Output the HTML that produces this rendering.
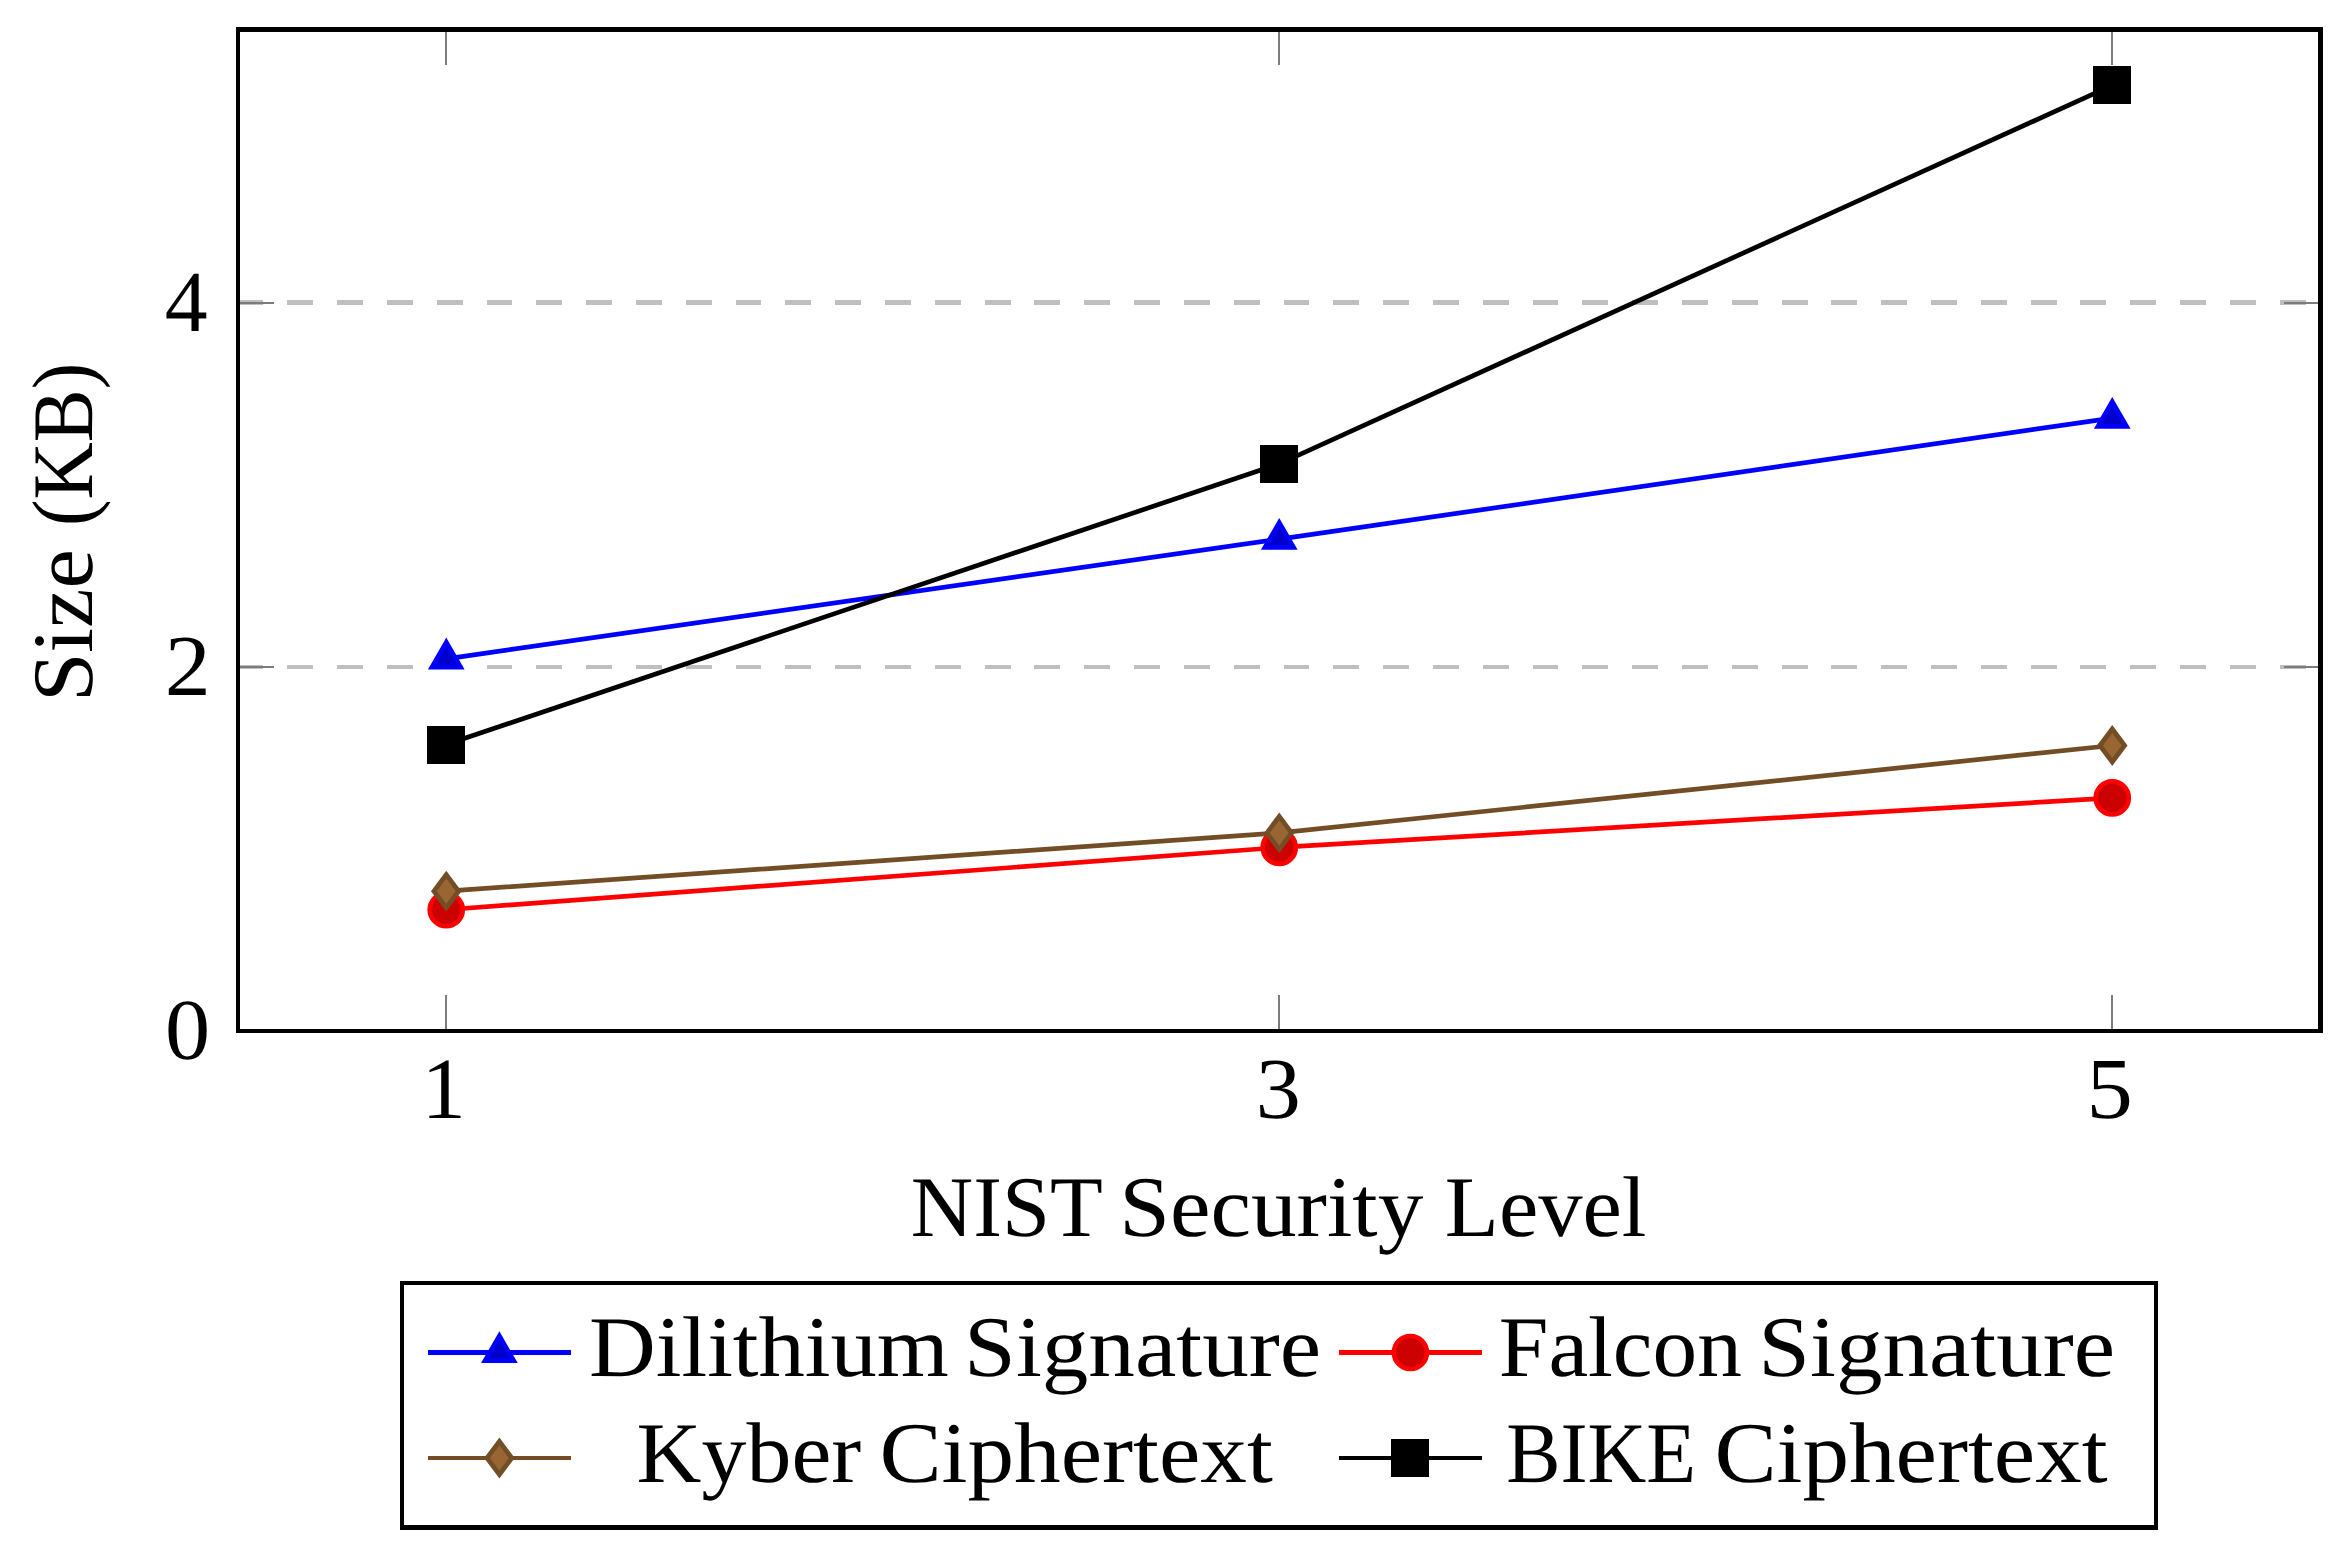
<!DOCTYPE html>
<html lang="en"><head><meta charset="utf-8"><title>Size (KB) vs NIST Security Level</title>
<style>html,body{margin:0;padding:0;background:#fff;overflow:hidden}svg{display:block}</style></head>
<body>
<svg width="2349" height="1556" viewBox="0 0 2349 1556">
<rect x="0" y="0" width="2349" height="1556" fill="#fff"/>
<g fill="#bfbfbf" shape-rendering="crispEdges">
<rect x="238" y="300" width="25" height="5"/>
<rect x="287" y="300" width="26" height="5"/>
<rect x="337" y="300" width="26" height="5"/>
<rect x="387" y="300" width="26" height="5"/>
<rect x="437" y="300" width="26" height="5"/>
<rect x="487" y="300" width="25" height="5"/>
<rect x="536" y="300" width="26" height="5"/>
<rect x="586" y="300" width="26" height="5"/>
<rect x="636" y="300" width="26" height="5"/>
<rect x="686" y="300" width="26" height="5"/>
<rect x="736" y="300" width="25" height="5"/>
<rect x="785" y="300" width="26" height="5"/>
<rect x="835" y="300" width="26" height="5"/>
<rect x="885" y="300" width="26" height="5"/>
<rect x="935" y="300" width="26" height="5"/>
<rect x="985" y="300" width="26" height="5"/>
<rect x="1034" y="300" width="26" height="5"/>
<rect x="1084" y="300" width="26" height="5"/>
<rect x="1134" y="300" width="26" height="5"/>
<rect x="1184" y="300" width="26" height="5"/>
<rect x="1234" y="300" width="26" height="5"/>
<rect x="1284" y="300" width="25" height="5"/>
<rect x="1333" y="300" width="26" height="5"/>
<rect x="1383" y="300" width="26" height="5"/>
<rect x="1433" y="300" width="26" height="5"/>
<rect x="1483" y="300" width="26" height="5"/>
<rect x="1533" y="300" width="25" height="5"/>
<rect x="1582" y="300" width="26" height="5"/>
<rect x="1632" y="300" width="26" height="5"/>
<rect x="1682" y="300" width="26" height="5"/>
<rect x="1732" y="300" width="26" height="5"/>
<rect x="1782" y="300" width="26" height="5"/>
<rect x="1831" y="300" width="26" height="5"/>
<rect x="1881" y="300" width="26" height="5"/>
<rect x="1931" y="300" width="26" height="5"/>
<rect x="1981" y="300" width="26" height="5"/>
<rect x="2031" y="300" width="26" height="5"/>
<rect x="2080" y="300" width="26" height="5"/>
<rect x="2130" y="300" width="26" height="5"/>
<rect x="2180" y="300" width="26" height="5"/>
<rect x="2230" y="300" width="26" height="5"/>
<rect x="2280" y="300" width="26" height="5"/>
<rect x="238" y="665" width="25" height="4"/>
<rect x="287" y="665" width="26" height="4"/>
<rect x="337" y="665" width="26" height="4"/>
<rect x="387" y="665" width="26" height="4"/>
<rect x="437" y="665" width="26" height="4"/>
<rect x="487" y="665" width="25" height="4"/>
<rect x="536" y="665" width="26" height="4"/>
<rect x="586" y="665" width="26" height="4"/>
<rect x="636" y="665" width="26" height="4"/>
<rect x="686" y="665" width="26" height="4"/>
<rect x="736" y="665" width="25" height="4"/>
<rect x="785" y="665" width="26" height="4"/>
<rect x="835" y="665" width="26" height="4"/>
<rect x="885" y="665" width="26" height="4"/>
<rect x="935" y="665" width="26" height="4"/>
<rect x="985" y="665" width="26" height="4"/>
<rect x="1034" y="665" width="26" height="4"/>
<rect x="1084" y="665" width="26" height="4"/>
<rect x="1134" y="665" width="26" height="4"/>
<rect x="1184" y="665" width="26" height="4"/>
<rect x="1234" y="665" width="26" height="4"/>
<rect x="1284" y="665" width="25" height="4"/>
<rect x="1333" y="665" width="26" height="4"/>
<rect x="1383" y="665" width="26" height="4"/>
<rect x="1433" y="665" width="26" height="4"/>
<rect x="1483" y="665" width="26" height="4"/>
<rect x="1533" y="665" width="25" height="4"/>
<rect x="1582" y="665" width="26" height="4"/>
<rect x="1632" y="665" width="26" height="4"/>
<rect x="1682" y="665" width="26" height="4"/>
<rect x="1732" y="665" width="26" height="4"/>
<rect x="1782" y="665" width="26" height="4"/>
<rect x="1831" y="665" width="26" height="4"/>
<rect x="1881" y="665" width="26" height="4"/>
<rect x="1931" y="665" width="26" height="4"/>
<rect x="1981" y="665" width="26" height="4"/>
<rect x="2031" y="665" width="26" height="4"/>
<rect x="2080" y="665" width="26" height="4"/>
<rect x="2130" y="665" width="26" height="4"/>
<rect x="2180" y="665" width="26" height="4"/>
<rect x="2230" y="665" width="26" height="4"/>
<rect x="2280" y="665" width="26" height="4"/>
</g>
<g fill="#7c7c7c" shape-rendering="crispEdges">
<rect x="445" y="32" width="2" height="33"/>
<rect x="445" y="995" width="2" height="34"/>
<rect x="1278" y="32" width="2" height="33"/>
<rect x="1278" y="995" width="2" height="34"/>
<rect x="2111" y="32" width="2" height="33"/>
<rect x="2111" y="995" width="2" height="34"/>
<rect x="240" y="302" width="34" height="2"/>
<rect x="2284" y="302" width="34" height="2"/>
<rect x="240" y="666" width="34" height="2"/>
<rect x="2284" y="666" width="34" height="2"/>
</g>
<g fill="#000" shape-rendering="crispEdges">
<rect x="236" y="27" width="2087" height="5"/>
<rect x="236" y="1029" width="2087" height="4"/>
<rect x="236" y="27" width="4" height="1006"/>
<rect x="2318" y="27" width="5" height="1006"/>
</g>
<polyline points="446.25,658.81 1279.25,539.17 2112.25,418.08" fill="none" stroke="#0000ff" stroke-width="4.7"/>
<polygon points="446.25,642.31 431.96,667.06 460.54,667.06" fill="#0000cc" stroke="#0000ff" stroke-width="4.7" stroke-linejoin="miter"/>
<polygon points="1279.25,522.67 1264.96,547.42 1293.54,547.42" fill="#0000cc" stroke="#0000ff" stroke-width="4.7" stroke-linejoin="miter"/>
<polygon points="2112.25,401.58 2097.96,426.33 2126.54,426.33" fill="#0000cc" stroke="#0000ff" stroke-width="4.7" stroke-linejoin="miter"/>
<polyline points="446.25,909.73 1279.25,847.45 2112.25,797.92" fill="none" stroke="#ff0000" stroke-width="4.7"/>
<circle cx="446.25" cy="909.73" r="16.5" fill="#cc0000" stroke="#ff0000" stroke-width="4.7"/>
<circle cx="1279.25" cy="847.45" r="16.5" fill="#cc0000" stroke="#ff0000" stroke-width="4.7"/>
<circle cx="2112.25" cy="797.92" r="16.5" fill="#cc0000" stroke="#ff0000" stroke-width="4.7"/>
<polyline points="446.25,891.15 1279.25,832.89 2112.25,745.48" fill="none" stroke="#734d26" stroke-width="4.7"/>
<polygon points="446.25,874.65 433.88,891.15 446.25,907.65 458.62,891.15" fill="#996633" stroke="#734d26" stroke-width="4.7" stroke-linejoin="miter"/>
<polygon points="1279.25,816.39 1266.88,832.89 1279.25,849.39 1291.62,832.89" fill="#996633" stroke="#734d26" stroke-width="4.7" stroke-linejoin="miter"/>
<polygon points="2112.25,728.98 2099.88,745.48 2112.25,761.98 2124.62,745.48" fill="#996633" stroke="#734d26" stroke-width="4.7" stroke-linejoin="miter"/>
<polyline points="446.25,744.57 1279.25,463.79 2112.25,85.40" fill="none" stroke="#000000" stroke-width="4.7"/>
<rect x="427" y="726" width="38" height="38" fill="#000000" shape-rendering="crispEdges"/>
<rect x="1260" y="445" width="38" height="38" fill="#000000" shape-rendering="crispEdges"/>
<rect x="2093" y="66" width="38" height="38" fill="#000000" shape-rendering="crispEdges"/>
<g fill="#000" shape-rendering="crispEdges">
<rect x="400" y="1281" width="1758" height="4"/>
<rect x="400" y="1525" width="1758" height="5"/>
<rect x="400" y="1281" width="4" height="249"/>
<rect x="2154" y="1281" width="4" height="249"/>
</g>
<rect x="428.0" y="1350.0" width="143" height="5" fill="#0000ff" shape-rendering="crispEdges"/>
<polygon points="499.40,1336.00 485.11,1360.75 513.69,1360.75" fill="#0000cc" stroke="#0000ff" stroke-width="4.7" stroke-linejoin="miter"/>
<rect x="1339.0" y="1350.0" width="143" height="5" fill="#ff0000" shape-rendering="crispEdges"/>
<circle cx="1410.40" cy="1352.50" r="16.5" fill="#cc0000" stroke="#ff0000" stroke-width="4.7"/>
<rect x="428.0" y="1456.0" width="143" height="4" fill="#734d26" shape-rendering="crispEdges"/>
<polygon points="499.40,1441.50 487.02,1458.00 499.40,1474.50 511.77,1458.00" fill="#996633" stroke="#734d26" stroke-width="4.7" stroke-linejoin="miter"/>
<rect x="1339.0" y="1456.0" width="143" height="4" fill="#000000" shape-rendering="crispEdges"/>
<rect x="1391" y="1439" width="38" height="38" fill="#000000" shape-rendering="crispEdges"/>
<g font-family="'Liberation Serif', serif" fill="#000" text-rendering="geometricPrecision">
<text transform="translate(164.89,1059.30) scale(1.0378,1.0000)" font-size="87" text-anchor="start">0</text>
<text transform="translate(164.77,694.50) scale(1.0571,1.0000)" font-size="87" text-anchor="start">2</text>
<text transform="translate(164.83,331.00) scale(0.9850,1.0000)" font-size="87" text-anchor="start">4</text>
<text transform="translate(421.44,1118.00) scale(1.0200,1.0000)" font-size="87" text-anchor="start">1</text>
<text transform="translate(1255.66,1117.50) scale(1.0361,1.0000)" font-size="87" text-anchor="start">3</text>
<text transform="translate(2086.47,1117.50) scale(1.0657,1.0000)" font-size="87" text-anchor="start">5</text>
<text transform="translate(910.80,1235.50) scale(1.0005,1.0000)" font-size="86.3" text-anchor="start">NIST</text>
<text transform="translate(1119.26,1235.50) scale(1.0573,1.0000)" font-size="86.3" text-anchor="start">Security</text>
<text transform="translate(1444.85,1235.50) scale(1.0264,1.0000)" font-size="86.3" text-anchor="start">Level</text>
<text transform="translate(588.96,1375.70) scale(1.0720,1.0000)" font-size="86.3" text-anchor="start">Dilithium</text>
<text transform="translate(964.12,1375.70) scale(1.0792,1.0000)" font-size="86.3" text-anchor="start">Signature</text>
<text transform="translate(1498.73,1375.70) scale(1.0349,1.0000)" font-size="86.3" text-anchor="start">Falcon</text>
<text transform="translate(1758.22,1375.70) scale(1.0792,1.0000)" font-size="86.3" text-anchor="start">Signature</text>
<text transform="translate(636.62,1482.00) scale(1.0413,1.0000)" font-size="86.3" text-anchor="start">Kyber</text>
<text transform="translate(879.43,1482.00) scale(1.0799,1.0000)" font-size="86.3" text-anchor="start">Ciphertext</text>
<text transform="translate(1506.21,1482.00) scale(0.9431,1.0000)" font-size="86.3" text-anchor="start">BIKE</text>
<text transform="translate(1714.38,1482.00) scale(1.0797,1.0000)" font-size="86.3" text-anchor="start">Ciphertext</text>
<text transform="translate(92.30,702.08) rotate(-90) scale(1.0293,1.0000)" font-size="86.3" text-anchor="start">Size</text>
<text transform="translate(92.30,526.09) rotate(-90) scale(0.9213,1.0000)" font-size="86.3" text-anchor="start">(KB)</text>
</g>
</svg>
</body></html>
